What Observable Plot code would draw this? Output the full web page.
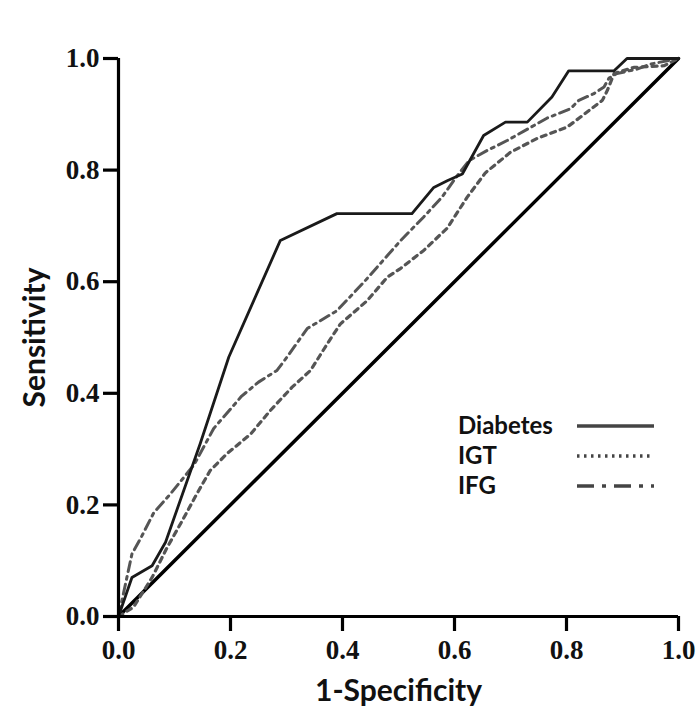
<!DOCTYPE html>
<html>
<head>
<meta charset="utf-8">
<script src="https://cdn.jsdelivr.net/npm/d3@7"></script>
<script src="https://cdn.jsdelivr.net/npm/@observablehq/plot@0.6"></script>
<style>
  html, body { margin: 0; padding: 0; background: #fff; }
  #chart { position: relative; width: 700px; height: 723px; }
</style>
</head>
<body>
<div id="chart"></div>
<script>
// ---- Data ----
const seriesNames = ["Diabetes", "IGT", "IFG"];
const xTicks = [0, 0.2, 0.4, 0.6, 0.8, 1.0];
const yTicks = [0, 0.2, 0.4, 0.6, 0.8, 1.0];
const xLabel = "1-Specificity";
const yLabel = "Sensitivity";

// ROC points: [1-specificity, sensitivity]
const diabetesPts = [
  [0,0],[0.024,0.07],[0.06,0.091],[0.084,0.133],[0.146,0.31],[0.197,0.465],
  [0.289,0.674],[0.39,0.722],[0.524,0.722],[0.563,0.769],[0.587,0.781],
  [0.614,0.793],[0.652,0.862],[0.691,0.886],[0.73,0.886],[0.774,0.931],
  [0.804,0.978],[0.885,0.978],[0.908,1],[1,1]
];
const igtPts = [
  [0,0],[0.027,0.017],[0.06,0.07],[0.087,0.124],[0.114,0.172],[0.14,0.22],
  [0.164,0.262],[0.194,0.292],[0.236,0.327],[0.271,0.369],[0.31,0.411],
  [0.343,0.441],[0.373,0.489],[0.396,0.524],[0.444,0.566],[0.48,0.608],
  [0.504,0.624],[0.545,0.656],[0.587,0.696],[0.623,0.752],[0.655,0.795],
  [0.7,0.832],[0.748,0.857],[0.801,0.877],[0.825,0.895],[0.864,0.925],
  [0.873,0.943],[0.885,0.973],[0.92,0.984],[0.974,0.987],[1,1]
];
const ifgPts = [
  [0,0],[0.024,0.112],[0.039,0.139],[0.063,0.186],[0.093,0.22],[0.135,0.272],
  [0.17,0.337],[0.22,0.395],[0.25,0.42],[0.283,0.441],[0.301,0.465],
  [0.337,0.516],[0.39,0.548],[0.438,0.599],[0.504,0.674],[0.545,0.716],
  [0.578,0.752],[0.605,0.79],[0.626,0.817],[0.658,0.835],[0.694,0.853],
  [0.765,0.893],[0.807,0.91],[0.822,0.925],[0.849,0.937],[0.867,0.949],
  [0.876,0.965],[0.89,0.973],[0.926,0.981],[0.95,0.99],[1,1]
];
const chancePts = [[0,0],[1,1]];

// ---- Styles ----
const styles = {
  Diabetes: {stroke: "#1a1a1a", strokeWidth: 2.8, dash: null},
  IGT: {stroke: "#555", strokeWidth: 3.2, dash: "5,5"},
  IFG: {stroke: "#555", strokeWidth: 3, dash: "10,5,3,5"}
};
const legendDash = {Diabetes: null, IGT: "2.5,4.5", IFG: "17,8,4,8"};

const tickFont = "'Liberation Serif', 'Times New Roman', serif";
const titleFont = "Lato, 'Open Sans', sans-serif";

const curve = (pts, name) => Plot.line(pts, {
  x: d => d[0], y: d => d[1],
  stroke: styles[name].stroke,
  strokeWidth: styles[name].strokeWidth,
  strokeDasharray: styles[name].dash,
  strokeLinejoin: "round"
});

const plot = Plot.plot({
  width: 700,
  height: 723,
  marginLeft: 118,
  marginRight: 22,
  marginTop: 58,
  marginBottom: 107,
  style: {fontFamily: tickFont, fontWeight: "bold", fontSize: "27px", color: "#111", background: "#fff", overflow: "visible"},
  x: {domain: [0, 1]},
  y: {domain: [0, 1]},
  marks: [
    Plot.line(chancePts, {x: d => d[0], y: d => d[1], stroke: "#000", strokeWidth: 3.5}),
    curve(igtPts, "IGT"),
    curve(ifgPts, "IFG"),
    curve(diabetesPts, "Diabetes"),
    Plot.ruleY([0], {stroke: "#000", strokeWidth: 3.2}),
    Plot.ruleX([0], {stroke: "#000", strokeWidth: 3.2}),
    Plot.axisX({ticks: xTicks, tickSize: 15, tickPadding: 8, strokeWidth: 3.2, stroke: "#000",
      tickFormat: d => d.toFixed(1), label: null, fontFamily: tickFont, fontWeight: "bold", fontSize: 27, fill: "#111"}),
    Plot.axisY({ticks: yTicks, tickSize: 15, tickPadding: 4, strokeWidth: 3.2, stroke: "#000",
      tickFormat: d => d.toFixed(1), label: null, fontFamily: tickFont, fontWeight: "bold", fontSize: 27, fill: "#111"}),
    Plot.text([xLabel], {text: d => d, frameAnchor: "bottom", dy: 84, lineAnchor: "bottom", textAnchor: "middle",
      fontFamily: titleFont, fontWeight: "bold", fontSize: 30, fill: "#111"}),
    Plot.text([yLabel], {text: d => d, frameAnchor: "left", dx: -83, rotate: -90, textAnchor: "middle",
      fontFamily: titleFont, fontWeight: "bold", fontSize: 30, fill: "#111"})
  ]
});

document.getElementById("chart").appendChild(plot);

// ---- Legend (drawn into the SVG) ----
const svg = d3.select(plot);
const lg = svg.append("g").attr("class", "legend").attr("text-anchor", "start");
const legendLeft = 458, legendTop = 434, legendRow = 30, lineX0 = 577, lineX1 = 654;
seriesNames.forEach((name, i) => {
  const base = legendTop + i * legendRow;
  lg.append("text")
    .attr("x", legendLeft).attr("y", base)
    .attr("text-anchor", "start")
    .attr("font-family", titleFont).attr("font-weight", "bold").attr("font-size", 24)
    .attr("fill", "#111")
    .text(name);
  lg.append("line")
    .attr("x1", lineX0).attr("x2", lineX1)
    .attr("y1", base - 8).attr("y2", base - 8)
    .attr("stroke", "#444")
    .attr("stroke-width", 3.5)
    .attr("stroke-dasharray", legendDash[name]);
});
</script>
</body>
</html>
